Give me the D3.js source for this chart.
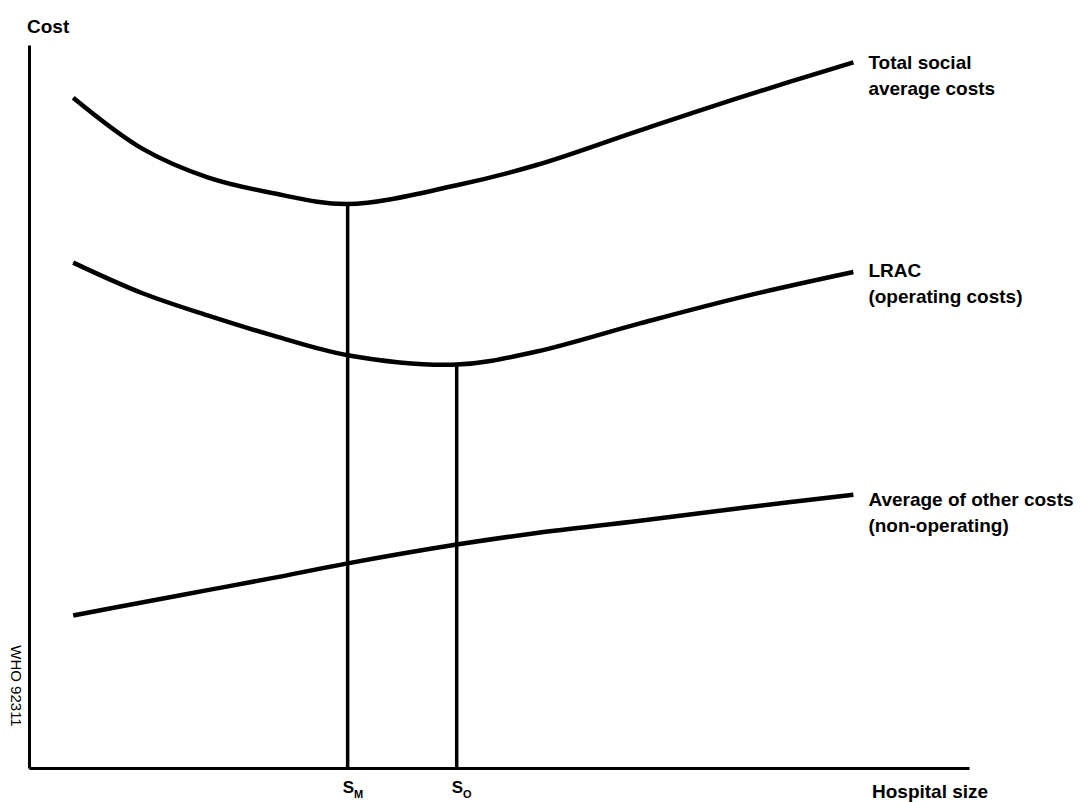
<!DOCTYPE html>
<html lang="en">
  <head>
    <meta charset="utf-8" />
    <title>Hospital size and cost</title>
    <script src="https://cdn.jsdelivr.net/npm/d3@7"></script>
    <style>
      body {
        margin: 0;
        background: #fff;
      }
    </style>
  </head>
  <body>
    <div id="root"></div>

    <script type="text/javascript">
      /************************************
       * data (arbitrary units, 0..100)
       ************************************/

      // hospital size sampled along the x axis
      const sizes = [4.7, 12, 19, 26, 33.9, 45.5, 54, 65, 76, 87.7];

      // average cost curves
      const totalSocial = [92.7, 85.7, 81.7, 79.5, 78.0, 80.6, 83.4, 88.2, 92.9, 97.6];
      const lrac = [69.9, 65.7, 62.6, 59.8, 57.1, 55.8, 57.6, 61.5, 65.2, 68.6];
      const otherCosts = [21.1, 22.9, 24.6, 26.3, 28.3, 30.9, 32.5, 34.2, 36.0, 37.8];

      const seriesLabels = [
        ["Total social", "average costs"],
        ["LRAC", "(operating costs)"],
        ["Average of other costs", "(non-operating)"],
      ];

      // optimum sizes: S_M (social minimum) and S_O (operating minimum)
      const markerNames = ["M", "O"];
      const markerIndex = [4, 5]; // index into sizes
      const markerSeries = [0, 1]; // which curve the drop line starts from

      /**********************************
       * chart
       *************************************/

      const width = 1081;
      const height = 802;
      const marginTop = 45;
      const marginRight = 112;
      const marginBottom = 34;
      const marginLeft = 29;

      const fontFamily = "'Liberation Sans', Arial, sans-serif";

      const xScale = d3
        .scaleLinear()
        .domain([0, 100])
        .range([marginLeft, width - marginRight]);

      const yScale = d3
        .scaleLinear()
        .domain([0, 100])
        .range([height - marginBottom, marginTop]);

      const svg = d3.select("#root").append("svg");
      svg.attr("width", width);
      svg.attr("height", height);
      svg.style("font-family", fontFamily);

      const allSeries = [totalSocial, lrac, otherCosts];

      // drop lines to the x axis
      markerIndex.forEach((idx, i) => {
        const top = allSeries[markerSeries[i]][idx];
        svg
          .append("line")
          .attr("x1", xScale(sizes[idx]))
          .attr("x2", xScale(sizes[idx]))
          .attr("y1", yScale(top))
          .attr("y2", yScale(0))
          .attr("stroke", "#000")
          .attr("stroke-width", 3.5);
      });

      // curves
      const line = d3
        .line()
        .x((d, i) => xScale(sizes[i]))
        .y((d) => yScale(d))
        .curve(d3.curveCatmullRom.alpha(0.5));

      svg
        .selectAll("path.curve")
        .data(allSeries)
        .enter()
        .append("path")
        .attr("class", "curve")
        .attr("d", line)
        .attr("fill", "none")
        .attr("stroke", "#000")
        .attr("stroke-width", 4.5)
        .attr("stroke-linecap", "butt");

      // axes with no ticks
      const xAxis = svg
        .append("g")
        .attr("transform", `translate(0,${height - marginBottom})`)
        .call(d3.axisBottom(xScale).tickValues([]).tickSizeOuter(0));

      const yAxis = svg
        .append("g")
        .attr("transform", `translate(${marginLeft},0)`)
        .call(d3.axisLeft(yScale).tickValues([]).tickSizeOuter(0));

      svg.selectAll(".domain").attr("stroke", "#000").attr("stroke-width", 3);

      // series labels at the right end of each curve
      const labelDy = [7, 5, 11];
      const lastIdx = sizes.length - 1;
      seriesLabels.forEach((lines, i) => {
        const t = svg
          .append("text")
          .attr("x", xScale(sizes[lastIdx]) + 15)
          .attr("y", yScale(allSeries[i][lastIdx]) + labelDy[i])
          .attr("font-size", 19)
          .attr("font-weight", "bold");
        lines.forEach((s, j) => {
          t.append("tspan")
            .attr("x", xScale(sizes[lastIdx]) + 15)
            .attr("dy", j === 0 ? 0 : 26)
            .text(s);
        });
      });

      // S_M / S_O under the axis
      markerIndex.forEach((idx, i) => {
        const t = svg
          .append("text")
          .attr("x", xScale(sizes[idx]) - 5)
          .attr("y", height - marginBottom + 25)
          .attr("font-size", 17)
          .attr("font-weight", "bold");
        t.append("tspan").text("S");
        t.append("tspan")
          .attr("font-size", 11)
          .attr("dy", 5)
          .text(markerNames[i]);
      });

      // axis titles
      svg
        .append("text")
        .text("Cost")
        .attr("x", marginLeft - 2)
        .attr("y", 33)
        .attr("font-size", 19)
        .attr("font-weight", "bold");

      svg
        .append("text")
        .text("Hospital size")
        .attr("x", 872)
        .attr("y", 798)
        .attr("font-size", 19)
        .attr("font-weight", "bold");

      // figure code along the y axis
      svg
        .append("text")
        .text("WHO 92311")
        .attr("transform", `translate(11,686) rotate(90)`)
        .attr("text-anchor", "middle")
        .attr("font-size", 15);
    </script>
  </body>
</html>
